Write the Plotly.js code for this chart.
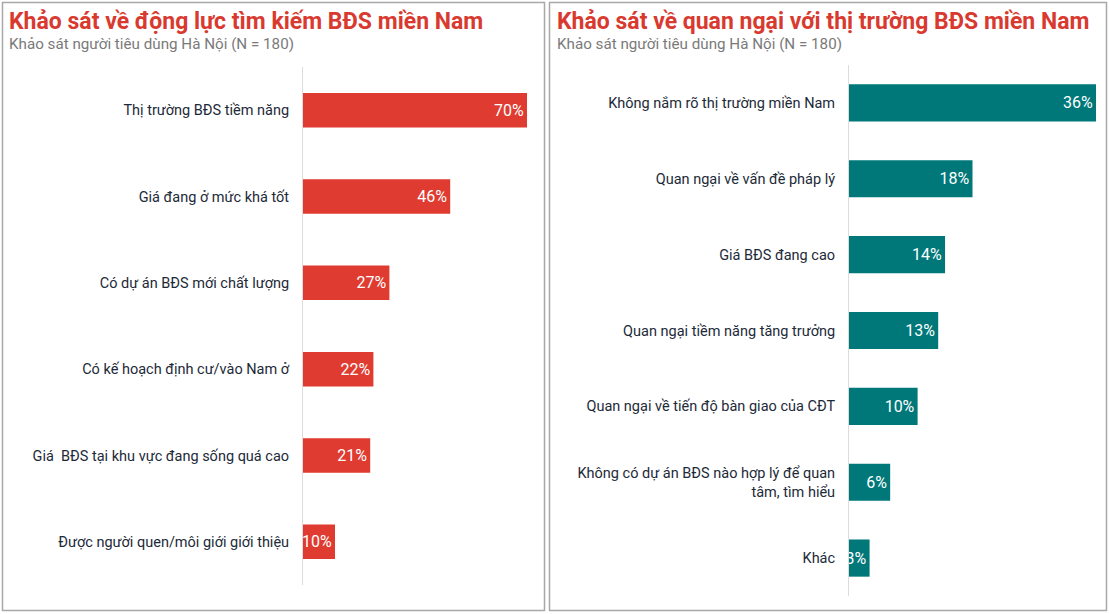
<!DOCTYPE html>
<html><head><meta charset="utf-8">
<script src="https://cdn.plot.ly/plotly-3.0.1.min.js"></script>
<style>html,body{margin:0;padding:0;background:#fff}#chart{width:1109px;height:614px}</style>
</head><body><div id="chart"></div>
<script>
const leftCategories = ["Thị trường BĐS tiềm năng","Giá đang ở mức khá tốt","Có dự án BĐS mới chất lượng","Có kế hoạch định cư/vào Nam ở","Giá  BĐS tại khu vực đang sống quá cao","Được người quen/môi giới giới thiệu"];
const leftValues = [70,46,27,22,21,10];
const rightCategories = ["Không nắm rõ thị trường miền Nam","Quan ngại về vấn đề pháp lý","Giá BĐS đang cao","Quan ngại tiềm năng tăng trưởng","Quan ngại về tiến độ bàn giao của CĐT","Không có dự án BĐS nào hợp lý để quan<br>tâm, tìm hiểu","Khác"];
const rightValues = [36,18,14,13,10,6,3];
const leftTitle = "Khảo sát về động lực tìm kiếm BĐS miền Nam";
const rightTitle = "Khảo sát về quan ngại với thị trường BĐS miền Nam";
const subtitle = "Khảo sát người tiêu dùng Hà Nội (N = 180)";

const W=1109,H=614;
const px=x=>x/W, py=y=>1-y/H;
const font="Roboto, 'Noto Sans', sans-serif";

const traces=[
 {type:'bar',orientation:'h',x:leftValues,y:leftCategories,xaxis:'x',yaxis:'y',width:0.4,
  marker:{color:'#e03b30'},texttemplate:'%{x}%',textposition:'inside',insidetextanchor:'end',textangle:0,
  constraintext:'none',textfont:{color:'#fff',size:16,family:font},hoverinfo:'none',cliponaxis:true},
 {type:'bar',orientation:'h',x:rightValues,y:rightCategories,xaxis:'x2',yaxis:'y2',width:0.49,
  marker:{color:'#00787a'},texttemplate:'%{x}%',textposition:'inside',insidetextanchor:'end',textangle:0,
  constraintext:'none',textfont:{color:'#fff',size:16,family:font},hoverinfo:'none',cliponaxis:true}
];
const yax={autorange:'reversed',showline:true,linecolor:'#dcdcdc',linewidth:1,ticks:'',
  tickfont:{size:14.5,color:'#1d2a38',family:font},showgrid:false,zeroline:false,ticklabelstandoff:10};
const layout={
 width:W,height:H,margin:{l:0,r:0,t:0,b:0},paper_bgcolor:'#fff',plot_bgcolor:'#fff',
 showlegend:false,font:{family:font},
 xaxis:{domain:[px(303),px(527)],range:[0,70],visible:false,fixedrange:true},
 yaxis:Object.assign({},yax,{domain:[py(585),py(67)],anchor:'x'}),
 xaxis2:{domain:[px(849),px(1096)],range:[0,36],visible:false,anchor:'y2'},
 yaxis2:Object.assign({},yax,{domain:[py(596),py(65)],anchor:'x2'}),
 shapes:[
  {type:'rect',xref:'paper',yref:'paper',x0:px(2.5),x1:px(544.5),y0:py(610.5),y1:py(2.5),line:{color:'#a8a8a8',width:1.5}},
  {type:'rect',xref:'paper',yref:'paper',x0:px(549.5),x1:px(1106.5),y0:py(610.5),y1:py(2.5),line:{color:'#a8a8a8',width:1.5}}
 ],
 annotations:[
  {text:'<b>'+leftTitle+'</b>',xref:'paper',yref:'paper',x:px(7),y:py(21),xanchor:'left',yanchor:'middle',showarrow:false,font:{size:23,color:'#d93a2f',family:font}},
  {text:subtitle,xref:'paper',yref:'paper',x:px(7),y:py(44),xanchor:'left',yanchor:'middle',showarrow:false,font:{size:15.2,color:'#7a7a7a',family:font}},
  {text:'<b>'+rightTitle+'</b>',xref:'paper',yref:'paper',x:px(555),y:py(21),xanchor:'left',yanchor:'middle',showarrow:false,font:{size:23,color:'#d93a2f',family:font}},
  {text:subtitle,xref:'paper',yref:'paper',x:px(555),y:py(44),xanchor:'left',yanchor:'middle',showarrow:false,font:{size:15.2,color:'#7a7a7a',family:font}}
 ]
};
Plotly.newPlot('chart',traces,layout,{displayModeBar:false,staticPlot:true});
</script></body></html>
